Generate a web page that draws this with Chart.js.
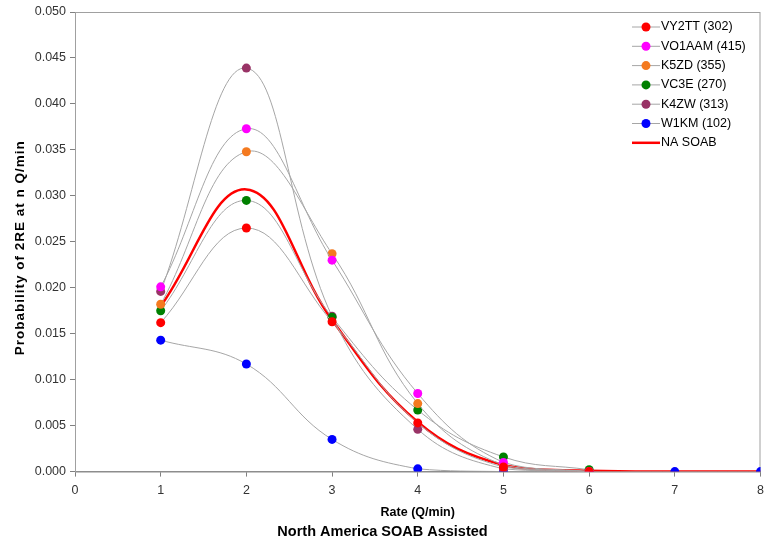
<!DOCTYPE html>
<html>
<head>
<meta charset="utf-8">
<script src="https://cdn.jsdelivr.net/npm/chart.js@4.4.1/dist/chart.umd.min.js"></script>
<style>
  html, body { margin: 0; padding: 0; background: #fff; }
  #wrap { width: 765px; height: 547px; }
</style>
</head>
<body>
<div id="wrap"><canvas id="chart" width="765" height="547"></canvas></div>
<script>
const RATES = [1, 2, 3, 4, 5, 6, 7, 8];

const VY2TT = [0.0162, 0.0265, 0.0163, 0.0053, 0.0005, 0.0000];
const VO1AAM = [0.0201, 0.0373, 0.0230, 0.0085, 0.0010, 0.0000];
const K5ZD = [0.0182, 0.0348, 0.0237, 0.0074, 0.0007, 0.0000];
const VC3E = [0.0175, 0.0295, 0.0168, 0.0067, 0.0016, 0.0002];
const K4ZW = [0.0196, 0.0439, 0.0169, 0.0046, 0.0003, 0.0000];
const W1KM = [0.0143, 0.0117, 0.0035, 0.0003, 0.0000, 0.0000, 0.0000, 0.0000];
const NA_SOAB = [0.0180, 0.0307, 0.0165, 0.0054, 0.0007, 0.0001, 0.0000, 0.0000];

const SERIES_NAMES = ["VY2TT (302)", "VO1AAM (415)", "K5ZD (355)", "VC3E (270)", "K4ZW (313)", "W1KM (102)", "NA SOAB"];
const SERIES_COLORS = ["#ff0000", "#ff00ff", "#f47a20", "#008000", "#993366", "#0000ff", "#ff0000"];

const X_TICKS = [0, 1, 2, 3, 4, 5, 6, 7, 8];
const Y_TICKS = [0, 0.005, 0.01, 0.015, 0.02, 0.025, 0.03, 0.035, 0.04, 0.045, 0.05];

const Y_TITLE = "Probability of 2RE at n Q/min";
const X_TITLE = "Rate (Q/min)";
const MAIN_TITLE = "North America SOAB Assisted";

const FONT = "'Liberation Sans', Arial, sans-serif";

function toPoints(values) {
  return values.map((v, i) => ({ x: RATES[i], y: v }));
}

function markerSeries(label, values, color) {
  return {
    label: label,
    data: toPoints(values),
    borderColor: "#a6a6a6",
    borderWidth: 1,
    backgroundColor: color,
    pointBackgroundColor: color,
    pointBorderWidth: 0,
    pointRadius: 4.5,
    tension: 0.4,
    fill: false,
  };
}

const datasets = [
  markerSeries(SERIES_NAMES[0], VY2TT, SERIES_COLORS[0]),
  markerSeries(SERIES_NAMES[1], VO1AAM, SERIES_COLORS[1]),
  markerSeries(SERIES_NAMES[2], K5ZD, SERIES_COLORS[2]),
  markerSeries(SERIES_NAMES[3], VC3E, SERIES_COLORS[3]),
  markerSeries(SERIES_NAMES[4], K4ZW, SERIES_COLORS[4]),
  markerSeries(SERIES_NAMES[5], W1KM, SERIES_COLORS[5]),
  {
    label: SERIES_NAMES[6],
    data: toPoints(NA_SOAB),
    borderColor: SERIES_COLORS[6],
    borderWidth: 2.5,
    pointRadius: 0,
    tension: 0.4,
    fill: false,
  },
];

// plot frame, y title and a legend inside the top-right of the plot area
const frameAndLegend = {
  id: "frameAndLegend",
  beforeDatasetsDraw(chart) {
    const { ctx, chartArea } = chart;
    ctx.save();
    ctx.strokeStyle = "#a0a0a0";
    ctx.lineWidth = 1;
    ctx.strokeRect(chartArea.left + 0.5, chartArea.top + 0.5, chartArea.right - chartArea.left - 1, chartArea.bottom - chartArea.top);
    ctx.restore();
  },
  afterDraw(chart) {
    const { ctx, chartArea } = chart;
    ctx.save();
    ctx.translate(20, (chartArea.top + chartArea.bottom) / 2 + 6);
    ctx.rotate(-Math.PI / 2);
    ctx.font = "bold 13.5px " + FONT;
    ctx.letterSpacing = "1px";
    ctx.fillStyle = "#000";
    ctx.textAlign = "center";
    ctx.textBaseline = "middle";
    ctx.fillText(Y_TITLE, 0, 0);
    ctx.restore();

    ctx.save();
    ctx.font = "12.5px " + FONT;
    ctx.textBaseline = "middle";
    ctx.textAlign = "left";
    chart.data.datasets.forEach((ds, i) => {
      const y = 27 + i * 19.3;
      ctx.beginPath();
      ctx.moveTo(632, y);
      ctx.lineTo(660, y);
      if (ds.pointRadius > 0) {
        ctx.strokeStyle = "#a6a6a6";
        ctx.lineWidth = 1;
        ctx.stroke();
        ctx.beginPath();
        ctx.arc(646, y, 4.5, 0, Math.PI * 2);
        ctx.fillStyle = ds.pointBackgroundColor;
        ctx.fill();
      } else {
        ctx.strokeStyle = ds.borderColor;
        ctx.lineWidth = 2.5;
        ctx.stroke();
      }
      ctx.fillStyle = "#000";
      ctx.fillText(ds.label, 661, y);
    });
    ctx.restore();
  },
};

new Chart(document.getElementById("chart"), {
  type: "line",
  data: { datasets: datasets },
  plugins: [frameAndLegend],
  options: {
    responsive: false,
    animation: false,
    layout: { padding: { left: 0, right: 0, top: 12, bottom: 0 } },
    plugins: {
      legend: { display: false },
      tooltip: { enabled: false },
      title: {
        display: true,
        position: "bottom",
        text: MAIN_TITLE,
        color: "#000",
        font: { family: FONT, size: 14.5, weight: "bold", lineHeight: 1.2 },
        padding: { top: 4, bottom: 6 },
      },
    },
    scales: {
      x: {
        type: "linear",
        min: 0,
        max: 8,
        afterBuildTicks(scale) {
          scale.ticks = X_TICKS.map((v) => ({ value: v }));
        },
        afterFit(scale) {
          scale.height = 48;
          scale.paddingRight = 4;
          scale.paddingLeft = 0;
        },
        ticks: {
          color: "#333",
          font: { family: FONT, size: 12.5 },
          padding: 6,
          maxRotation: 0,
        },
        grid: {
          drawOnChartArea: false,
          drawTicks: true,
          tickLength: 5,
          color: "#808080",
        },
        border: { display: true, color: "#808080" },
        title: {
          display: true,
          text: X_TITLE,
          color: "#000",
          font: { family: FONT, size: 12.5, weight: "bold", lineHeight: 1.2 },
          padding: { top: 0, bottom: 0 },
        },
      },
      y: {
        min: 0,
        max: 0.05,
        afterBuildTicks(scale) {
          scale.ticks = Y_TICKS.map((v) => ({ value: v }));
        },
        afterFit(scale) {
          scale.width = 75;
        },
        ticks: {
          color: "#333",
          font: { family: FONT, size: 12.5 },
          padding: 4,
          callback: (v) => v.toFixed(3),
        },
        grid: {
          drawOnChartArea: false,
          drawTicks: true,
          tickLength: 5,
          color: "#808080",
        },
        border: { display: true, color: "#808080" },
      },
    },
  },
});
</script>
</body>
</html>
